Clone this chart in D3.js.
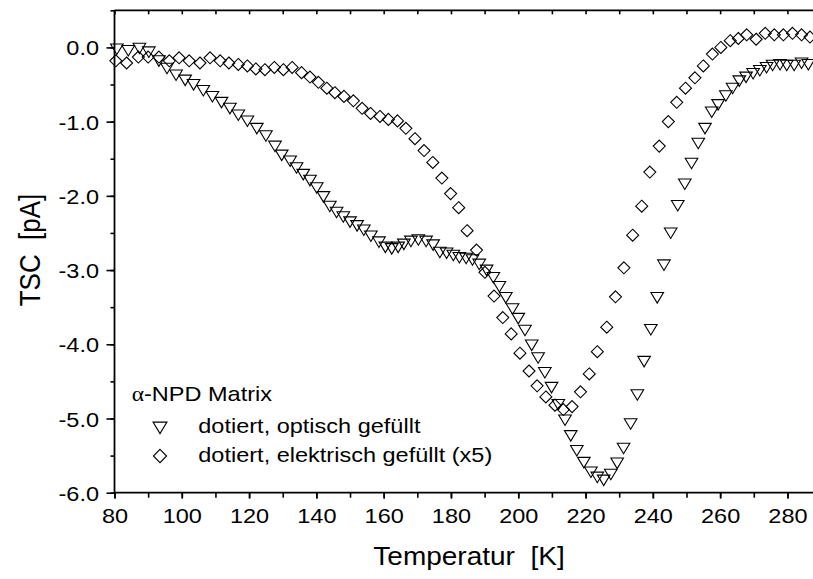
<!DOCTYPE html>
<html>
<head>
<meta charset="utf-8">
<script src="https://cdn.jsdelivr.net/npm/d3@7"></script>
<style>
  body { margin: 0; background: #fff; }
  svg { display: block; }
  text { font-family: "Liberation Sans", Arial, Helvetica, sans-serif; fill: #000; white-space: pre; }
</style>
</head>
<body>
<svg id="chart" width="813" height="579"></svg>
<script>
// TSC spectra of an alpha-NPD matrix, doped samples
// optically filled (triangles)
const optTemp = [80.7, 84.1, 87.4, 90.2, 93.2, 95.6, 98.3, 101.0, 103.5, 106.4,
  109.1, 111.8, 114.3, 116.8, 119.5, 122.3, 125.0, 127.7, 129.7, 132.2,
  134.1, 136.1, 138.1, 140.1, 142.1, 144.0, 146.0, 148.0, 150.0, 152.1,
  154.1, 156.2, 158.6, 160.5, 162.4, 164.3, 166.0, 168.1, 170.3, 172.6,
  174.7, 176.7, 178.7, 180.7, 182.5, 184.5, 186.4, 188.4, 190.6, 192.6,
  194.4, 196.3, 198.3, 200.0, 202.0, 204.0, 205.9, 207.9, 209.9, 211.9,
  213.9, 215.6, 217.4, 219.5, 221.6, 223.5, 225.4, 227.5, 229.4, 231.3,
  233.4, 235.4, 237.4, 239.4, 241.3, 243.3, 245.3, 247.4, 249.5, 251.5,
  253.5, 255.5, 257.5, 259.4, 261.7, 263.7, 265.7, 267.7, 269.8, 271.8,
  273.8, 275.6, 277.8, 279.8, 282.0, 284.2, 286.2];
const optTsc = [-0.01, -0.03, 0.00, -0.05, -0.17, -0.27, -0.36, -0.43, -0.49, -0.57,
  -0.65, -0.73, -0.81, -0.90, -0.98, -1.08, -1.18, -1.32, -1.44, -1.52,
  -1.61, -1.70, -1.78, -1.88, -2.00, -2.13, -2.21, -2.27, -2.34, -2.39,
  -2.45, -2.53, -2.61, -2.68, -2.70, -2.68, -2.64, -2.60, -2.58, -2.60,
  -2.65, -2.75, -2.76, -2.79, -2.82, -2.83, -2.85, -2.91, -2.99, -3.09,
  -3.21, -3.36, -3.51, -3.64, -3.80, -4.00, -4.17, -4.37, -4.57, -4.80,
  -5.01, -5.22, -5.42, -5.58, -5.71, -5.78, -5.82, -5.74, -5.59, -5.39,
  -5.06, -4.67, -4.22, -3.79, -3.36, -2.92, -2.49, -2.12, -1.83, -1.55,
  -1.28, -1.08, -0.86, -0.76, -0.64, -0.54, -0.44, -0.39, -0.34, -0.30,
  -0.26, -0.23, -0.22, -0.23, -0.23, -0.20, -0.22];

// electrically filled, scaled x5 (diamonds)
const elTemp = [80.4, 83.6, 87.1, 90.0, 93.2, 96.3, 99.2, 102.2, 105.4, 108.4,
  111.4, 114.0, 116.8, 119.5, 122.0, 124.7, 127.5, 130.2, 132.8, 135.6,
  138.1, 140.6, 143.1, 145.5, 148.2, 151.0, 153.6, 156.1, 158.9, 161.4,
  164.1, 166.6, 169.3, 172.0, 174.6, 177.3, 179.9, 182.3, 184.8, 187.6,
  190.1, 192.8, 195.4, 197.9, 200.5, 203.2, 205.6, 208.2, 210.9, 213.4,
  216.0, 218.5, 221.1, 223.5, 226.3, 228.9, 231.4, 234.0, 236.7, 239.1,
  241.9, 244.6, 247.1, 249.7, 252.5, 255.0, 257.7, 260.2, 263.0, 265.4,
  267.9, 270.7, 273.4, 276.1, 278.8, 281.5, 284.2, 286.7];
const elTsc = [-0.18, -0.21, -0.13, -0.13, -0.13, -0.18, -0.14, -0.18, -0.21, -0.14,
  -0.18, -0.21, -0.23, -0.25, -0.29, -0.30, -0.27, -0.30, -0.27, -0.34,
  -0.40, -0.47, -0.55, -0.61, -0.66, -0.72, -0.82, -0.89, -0.93, -0.97,
  -0.99, -1.09, -1.23, -1.39, -1.55, -1.76, -1.97, -2.16, -2.47, -2.73,
  -3.03, -3.35, -3.64, -3.86, -4.12, -4.36, -4.56, -4.71, -4.82, -4.88,
  -4.84, -4.64, -4.40, -4.10, -3.77, -3.36, -2.97, -2.53, -2.14, -1.68,
  -1.33, -1.00, -0.74, -0.55, -0.41, -0.25, -0.09, 0.00, 0.09, 0.12,
  0.17, 0.11, 0.19, 0.17, 0.17, 0.19, 0.17, 0.14];

const xTickValues = [80, 100, 120, 140, 160, 180, 200, 220, 240, 260, 280];
const yTickValues = [-6, -5, -4, -3, -2, -1, 0];
const legendHead = ["α", "-NPD Matrix"];
const seriesNames = ["dotiert, optisch gefüllt", "dotiert, elektrisch gefüllt (x5)"];
const xTitle = "Temperatur  [K]";
const yTitle = "TSC  [pA]";

// glyphs are rendered slightly wider than tall
const SX = 1.12;

const svg = d3.select("#chart");
const plotL = 114.5, plotR = 813, plotT = 10.3, plotB = 492.7;

const x = d3.scaleLinear().domain([80, 287.6]).range([plotL, plotR]);
const y = d3.scaleLinear().domain([-6, 0.5]).range([plotB, plotT]);

const tri = "M-6.3,-4.2L6.3,-4.2L0,6.3Z";
const dia = "M0,-6L6,0L0,6L-6,0Z";

// markers
const gPts = svg.append("g");
gPts.selectAll("path.el")
  .data(d3.zip(elTemp, elTsc))
  .join("path")
  .attr("class", "el")
  .attr("d", dia)
  .attr("transform", d => `translate(${x(d[0])},${y(d[1])})`)
  .attr("fill", "none").attr("stroke", "#000").attr("stroke-width", 1.1);
gPts.selectAll("path.opt")
  .data(d3.zip(optTemp, optTsc))
  .join("path")
  .attr("class", "opt")
  .attr("d", tri)
  .attr("transform", d => `translate(${x(d[0])},${y(d[1])})`)
  .attr("fill", "none").attr("stroke", "#000").attr("stroke-width", 1.1);

// axes
const minorX = d3.range(80, 288, 10);
const minorY = d3.range(-6, 0.51, 0.5);
const fmtY = v => d3.format(".1f")(v).replace("\u2212", "-");

const axB = svg.append("g").attr("transform", `translate(0,${plotB})`);
axB.call(d3.axisBottom(x).tickValues(minorX).tickSize(5).tickFormat(""));
axB.call(g => g.select(".domain").remove());
const axBL = svg.append("g").attr("transform", `translate(0,${plotB})`)
  .call(d3.axisBottom(x).tickValues(xTickValues).tickSize(6).tickPadding(9).tickFormat(d3.format("d")));
axBL.select(".domain").remove();

const axL = svg.append("g").attr("transform", `translate(${plotL},0)`);
axL.call(d3.axisLeft(y).tickValues(minorY).tickSize(4).tickFormat(""));
axL.call(g => g.select(".domain").remove());
const axLL = svg.append("g").attr("transform", `translate(${plotL},0)`)
  .call(d3.axisLeft(y).tickValues(yTickValues).tickSize(8).tickFormat(fmtY));
axLL.select(".domain").remove();

const axT = svg.append("g").attr("transform", `translate(0,${plotT})`)
  .call(d3.axisBottom(x).tickValues(minorX).tickSize(4).tickFormat(""));
axT.select(".domain").remove();

svg.selectAll(".tick line").attr("stroke", "#000").attr("stroke-width", 1.6);

axBL.selectAll("text").attr("font-size", 21).attr("fill", "#000")
  .attr("font-family", "Liberation Sans, Arial, sans-serif")
  .attr("transform", `scale(${SX},1)`);
axLL.selectAll("text").attr("font-size", 21).attr("fill", "#000")
  .attr("font-family", "Liberation Sans, Arial, sans-serif")
  .attr("x", -15.5 / SX).attr("dy", "0.36em")
  .attr("transform", `scale(${SX},1)`);

// frame lines
svg.append("path")
  .attr("d", `M${plotL},${plotT}H${plotR}M${plotL},${plotT}V${plotB}H${plotR}`)
  .attr("fill", "none").attr("stroke", "#000").attr("stroke-width", 1.8);

// axis titles
svg.append("text")
  .attr("transform", `translate(469,565) scale(${SX},1)`)
  .attr("text-anchor", "middle").attr("font-size", 25).text(xTitle);
svg.append("text")
  .attr("transform", `translate(40,250) scale(${SX},1) rotate(-90)`)
  .attr("text-anchor", "middle").attr("font-size", 26).text(yTitle);

// legend
const lg = svg.append("g");
const head = lg.append("text")
  .attr("transform", `translate(131.7,401) scale(${SX},1)`).attr("font-size", 21);
head.append("tspan").attr("font-family", "Liberation Serif, Times New Roman, serif").text(legendHead[0]);
head.append("tspan").text(legendHead[1]);

const rows = [
  { sym: tri, name: seriesNames[0], cy: 426.7, by: 433 },
  { sym: dia, name: seriesNames[1], cy: 456, by: 462 }
];
rows.forEach(r => {
  lg.append("path").attr("d", r.sym)
    .attr("transform", `translate(160,${r.cy}) scale(1.1)`)
    .attr("fill", "none").attr("stroke", "#000").attr("stroke-width", 1);
  lg.append("text")
    .attr("transform", `translate(198.3,${r.by}) scale(${SX},1)`)
    .attr("font-size", 21).text(r.name);
});
</script>
</body>
</html>
